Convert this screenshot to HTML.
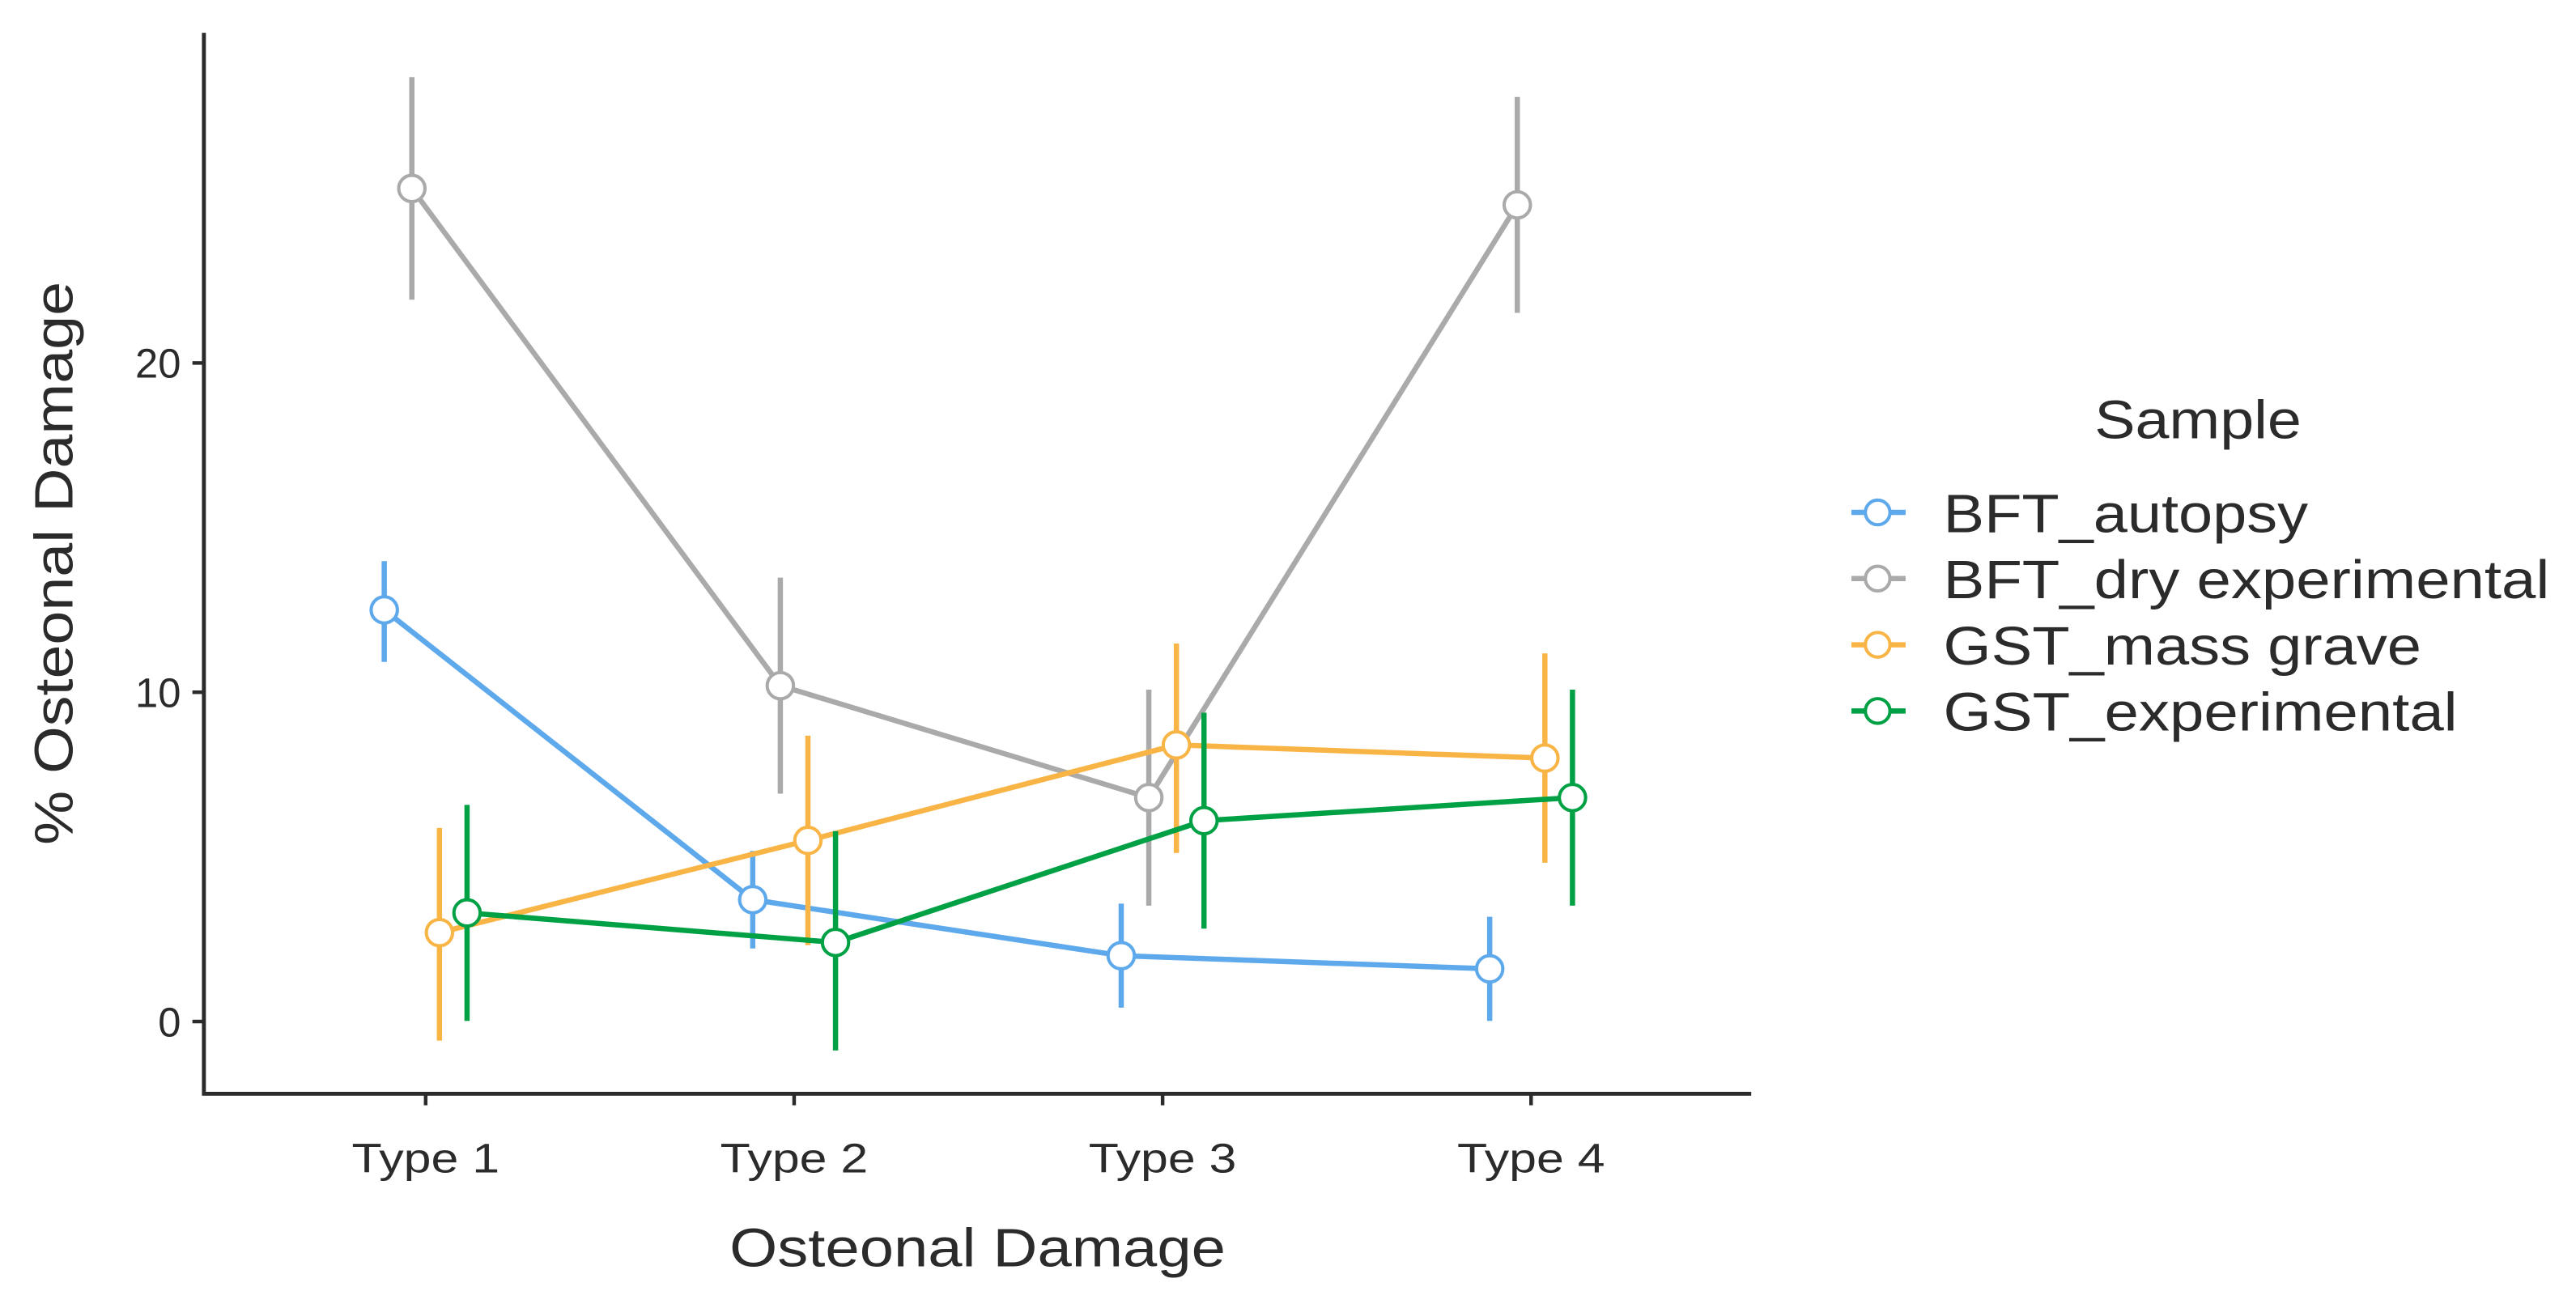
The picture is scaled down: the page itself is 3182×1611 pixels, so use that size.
<!DOCTYPE html>
<html><head><meta charset="utf-8"><style>
html,body{margin:0;padding:0;background:#fff;}
svg{display:block;font-family:"Liberation Sans",sans-serif;}
</style></head><body>
<svg id="chart" width="3182" height="1611" viewBox="0 0 1568 794" xmlns="http://www.w3.org/2000/svg">
<rect width="1568" height="794" fill="#fff"/>
<g id="plot"></g>
<g id="axes"></g>
<g id="legend"></g>
</svg>
<script>
const categories = ["Type 1","Type 2","Type 3","Type 4"];
const seriesNames = ["BFT_autopsy","BFT_dry experimental","GST_mass grave","GST_experimental"];
const seriesColors = ["#5EA9EC","#AAAAAA","#F9B446","#00A144"];
const meanBFTautopsy = [12.5,3.7,2.0,1.6];
const lowBFTautopsy = [11.0,2.3,0.5,0.1];
const highBFTautopsy = [13.9,5.1,3.5,3.1];
const meanBFTdry = [25.3,10.2,6.8,24.8];
const lowBFTdry = [22.0,7.0,3.6,21.6];
const highBFTdry = [28.6,13.4,10.0,28.0];
const meanGSTmass = [2.7,5.5,8.4,8.0];
const lowGSTmass = [-0.5,2.4,5.2,4.9];
const highGSTmass = [5.8,8.6,11.4,11.1];
const meanGSTexp = [3.3,2.4,6.1,6.8];
const lowGSTexp = [0.1,-0.8,2.9,3.6];
const highGSTexp = [6.5,5.7,9.3,10.0];
const yTicks = [0,10,20];

const means=[meanBFTautopsy,meanBFTdry,meanGSTmass,meanGSTexp];
const lows=[lowBFTautopsy,lowBFTdry,lowGSTmass,lowGSTexp];
const highs=[highBFTautopsy,highBFTdry,highGSTmass,highGSTexp];
const legendWidths=[222,369,291,313];
const NS="http://www.w3.org/2000/svg";
const X0=124, X1=1066, YT=20, YB=666;
function xScale(i,s){return 259+i*224.33+(s-1.5)*16.8;}
function yScale(v){return 622-v*20.05;}
function mk(tag,attrs,parent){const e=document.createElementNS(NS,tag);for(const k in attrs)e.setAttribute(k,attrs[k]);parent.appendChild(e);return e;}
const plot=document.getElementById('plot'), axes=document.getElementById('axes'), legend=document.getElementById('legend');

means.forEach((m,s)=>{
  const g=mk('g',{},plot);
  
  
  const c=seriesColors[s];
  const pts=m.map((v,i)=>xScale(i,s)+','+yScale(v)).join(' ');
  const line=mk('polyline',{points:pts,fill:'none',stroke:c,'stroke-width':3.2},g);
  
  
  m.forEach((v,i)=>{
    const x=xScale(i,s);
    const eb=mk('path',{d:`M${x-1.6},${yScale(lows[s][i])}H${x+1.6}M${x},${yScale(lows[s][i])}V${yScale(highs[s][i])}M${x-1.6},${yScale(highs[s][i])}H${x+1.6}`,stroke:c,'stroke-width':3.2,fill:'none'},g);
    
    
  });
  m.forEach((v,i)=>{
    const pt=mk('circle',{cx:xScale(i,s),cy:yScale(v),r:8,fill:'#fff',stroke:c,'stroke-width':2},g);
    
    
  });
});

const ya=mk('path',{d:`M${X0},${YT}V${YB}H${X1}`,stroke:'#2b2b2b','stroke-width':2.4,fill:'none'},axes);


yTicks.forEach(t=>{
  const y=yScale(t);
  const tk=mk('line',{x1:X0-7,x2:X0,y1:y,y2:y,stroke:'#2b2b2b','stroke-width':2.2},axes);
  
  
  const lb=mk('text',{x:X0-14,y:y+9,'text-anchor':'end','font-size':25,fill:'#2b2b2b'},axes);
  lb.textContent=t;
  
  
});
categories.forEach((c,i)=>{
  const x=259+i*224.33;
  const tk=mk('line',{x1:x,x2:x,y1:YB,y2:YB+7,stroke:'#2b2b2b','stroke-width':2.2},axes);
  
  
  const lb=mk('text',{x:x,y:714,'text-anchor':'middle','font-size':25,fill:'#2b2b2b',textLength:90,lengthAdjust:'spacingAndGlyphs'},axes);
  lb.textContent=c;
  
  
});
const xt=mk('text',{x:595,y:771,'text-anchor':'middle','font-size':33,fill:'#2b2b2b',textLength:302,lengthAdjust:'spacingAndGlyphs'},axes);
xt.textContent='Osteonal Damage';


const yt=mk('text',{x:0,y:0,'text-anchor':'middle','font-size':33,fill:'#2b2b2b',textLength:343,lengthAdjust:'spacingAndGlyphs',transform:'translate(44,343) rotate(-90)'},axes);
yt.textContent='% Osteonal Damage';



const lt=mk('text',{x:1275,y:267,'font-size':33,fill:'#2b2b2b',textLength:126,lengthAdjust:'spacingAndGlyphs'},legend);
lt.textContent='Sample';


seriesNames.forEach((n,s)=>{
  const y=312+s*40.3;
  const g=mk('g',{},legend);
  
  
  mk('line',{x1:1127,x2:1160,y1:y,y2:y,stroke:seriesColors[s],'stroke-width':3.2},g);
  mk('circle',{cx:1143,cy:y,r:7.5,fill:'#fff',stroke:seriesColors[s],'stroke-width':2},g);
  const t=mk('text',{x:1183,y:y+12,'font-size':33,fill:'#2b2b2b',textLength:legendWidths[s],lengthAdjust:'spacingAndGlyphs'},g);
  t.textContent=n;
});
</script>
</body></html>
